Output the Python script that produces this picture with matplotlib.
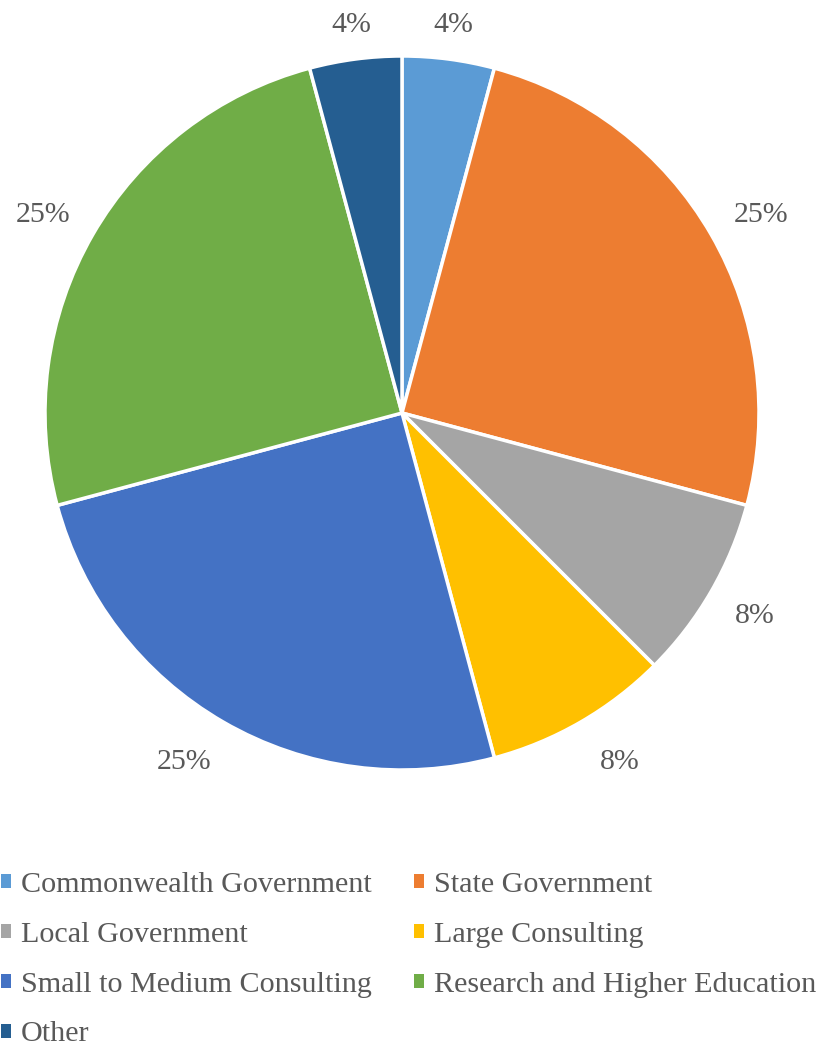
import matplotlib.pyplot as plt
from matplotlib.patches import Patch
import numpy as np

# sector counts (shares shown as percentages)
sectors = ['Commonwealth Government', 'State Government', 'Local Government',
           'Large Consulting', 'Small to Medium Consulting',
           'Research and Higher Education', 'Other']
counts = [1, 6, 2, 2, 6, 6, 1]
colors = ['#5B9BD5', '#ED7D31', '#A5A5A5', '#FFC000', '#4472C4', '#70AD47', '#255E91']

plt.rcParams['font.family'] = ['Liberation Serif', 'DejaVu Serif']
text_grey = '#595959'

W, H = 818, 1046
fig = plt.figure(figsize=(W / 100, H / 100), dpi=100)

# pie centre and radius in pixels
cx, cy, r = 402, 413, 357
ax = fig.add_axes([(cx - r) / W, (H - cy - r) / H, 2 * r / W, 2 * r / H])

wedges, texts, autotexts = ax.pie(
    counts, colors=colors, startangle=90, counterclock=False,
    autopct=lambda p: '%.0f%%' % p, pctdistance=1.15,
    wedgeprops=dict(edgecolor='white', linewidth=2.5),
    textprops=dict(color=text_grey, fontsize=21.5))

# label distance from centre, tuned per slice like the original layout
label_dist = [1.095, 1.16, 1.14, 1.13, 1.13, 1.16, 1.095]
for w, t, d in zip(wedges, autotexts, label_dist):
    mid = np.deg2rad((w.theta1 + w.theta2) / 2)
    x, y = d * np.cos(mid), d * np.sin(mid)
    if 0.3 < y < 0.8:
        y -= 0.025
    if y < -0.8:
        x += 0.045 * np.sign(x)
    t.set_position((x, y))
    t.set_clip_on(False)

ax.set_xlim(-1, 1)
ax.set_ylim(-1, 1)
ax.set_aspect('equal')
ax.axis('off')

# legend fills column-wise, so reorder for row-wise reading
order = [0, 2, 4, 6, 1, 3, 5]
handles = [Patch(facecolor=colors[i], edgecolor='none') for i in order]
labels = [sectors[i] for i in order]
fig.legend(handles, labels, ncol=2, loc='upper left',
           bbox_to_anchor=(1 / W, 1 - 872 / H), frameon=False,
           fontsize=21.7, labelcolor=text_grey,
           handlelength=0.33, handleheight=0.33, handletextpad=0.33,
           columnspacing=1.4, labelspacing=0.79, borderaxespad=0, borderpad=0)

fig.savefig('out.png', dpi=100, facecolor='white')
